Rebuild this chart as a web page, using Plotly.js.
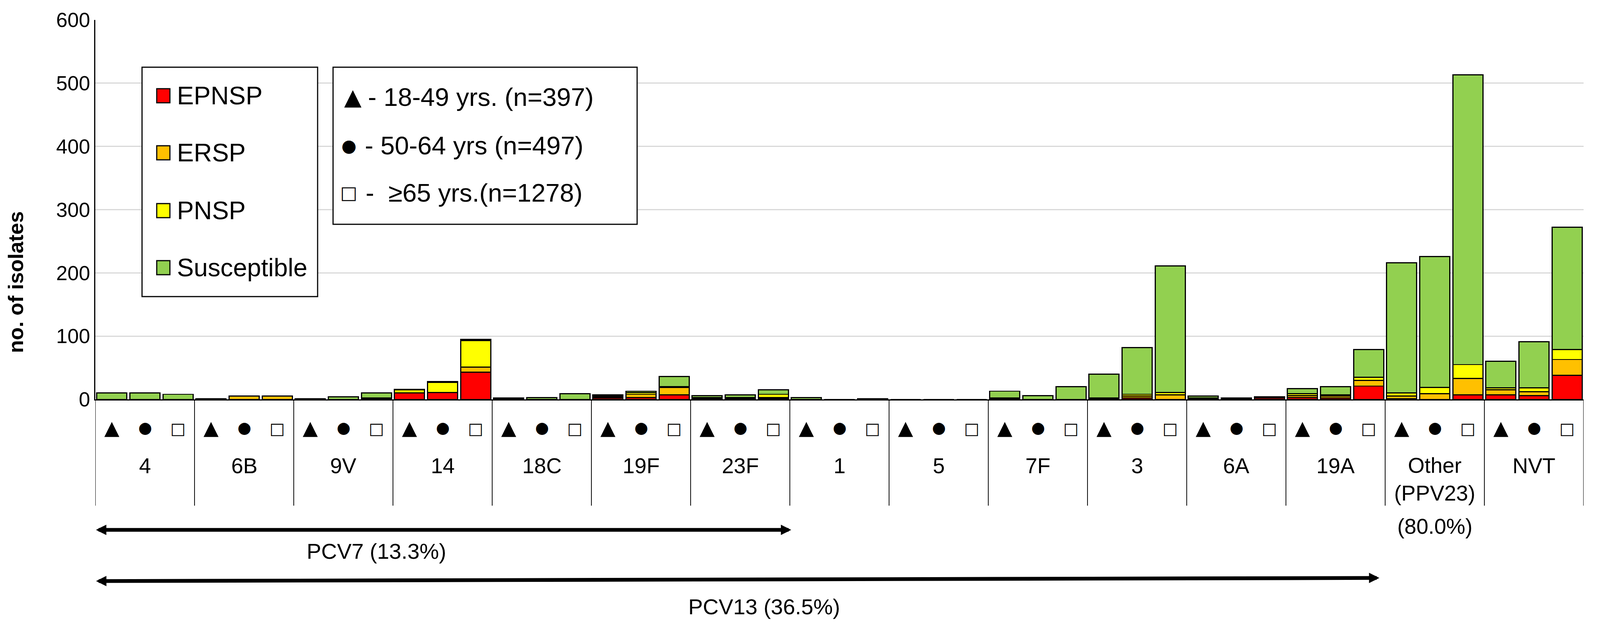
<!DOCTYPE html>
<html><head><meta charset="utf-8">
<script src="https://cdn.plot.ly/plotly-3.0.1.min.js"></script>
<style>html,body{margin:0;padding:0;background:#fff;overflow:hidden}</style>
</head><body><div id="chart"></div>
<script>
// ---------- data ----------
const serotypes = ['4','6B','9V','14','18C','19F','23F','1','5','7F','3','6A','19A','Other (PPV23)','NVT'];
const ageSymbols = ['\u25B2','\u25CF','\u25A1'];
const ageLegend = ['- 18-49 yrs. (n=397)', '- 50-64 yrs (n=497)', '-\u00A0\u00A0\u226565 yrs.(n=1278)'];
const seriesNames = ['EPNSP','ERSP','PNSP','Susceptible'];
const seriesColors = ['#FF0000','#FFC000','#FFFF00','#92D050'];
const yTicks = [0,100,200,300,400,500,600];
const yTitle = 'no. of isolates';
const pcv7Label = 'PCV7 (13.3%)';
const pcv13Label = 'PCV13 (36.5%)';
const otherShare = '(80.0%)';

// values: per serotype, three age groups (18-49, 50-64, >=65)
const epnsp = [0,0,0, 0,0,0, 0,0,0, 10,11,43, 0,0,0, 2,3,7, 0,0,1, 0,0,0, 0,0,0, 1,0,0, 1,2,0, 1,1,2, 3,2,21, 1,0,7, 7,6,38];
const ersp  = [0,0,0, 1,5,5, 0,0,1, 0,0,8, 1,0,0, 2,5,12, 1,1,2, 0,0,0, 0,0,0, 1,0,0, 1,3,7, 1,1,1, 3,3,9, 4,9,26, 8,6,25];
const pnsp  = [0,0,0, 0,0,0, 0,0,1, 5,16,42, 0,0,0, 1,3,1, 2,2,5, 0,0,0, 0,0,0, 0,0,0, 0,3,4, 0,0,1, 3,2,5, 5,10,22, 3,6,16];
const susceptible = [10,10,8, 0,0,0, 1,4,8, 1,1,2, 1,3,9, 2,2,16, 3,4,7, 3,0,1, 0,0,0, 11,6,20, 38,74,200, 3,0,0, 8,13,44, 206,207,458, 42,73,193];

// ---------- geometry (reference pixels, scaled to the window) ----------
const W0 = 4247, H0 = 1602;
const Sx = (window.innerWidth || W0) / W0, Sy = (window.innerHeight || H0) / H0;
const W = Math.floor(W0 * Sx), H = Math.floor(H0 * Sy);
const L = 253, R = 4203, T = 51, B = 1022;
const px = x => (x - L) / (R - L);
const py = y => (B - y) / (B - T);
const f = v => v * Sx;           // font sizes and line widths
const FONT = 'Liberation Sans, Arial, sans-serif';
const SYMFONT = 'DejaVu Sans, Liberation Sans, sans-serif';

const keys = [];
serotypes.forEach(s => ageSymbols.forEach(a => keys.push(s + ' ' + a)));

const seriesValues = [epnsp, ersp, pnsp, susceptible];
const traces = seriesNames.map((n, i) => ({
  type: 'bar', name: n, x: keys, y: seriesValues[i],
  marker: {color: seriesColors[i], line: {color: '#000', width: f(3)}},
  showlegend: false, hoverinfo: 'skip'
}));

const shapes = [];
const annotations = [];

// group separators below axis
for (let k = 0; k <= serotypes.length; k++) {
  shapes.push({type: 'line', xref: 'x', yref: 'paper', x0: 3 * k - 0.5, x1: 3 * k - 0.5,
    y0: 0, y1: py(1294), line: {color: '#000', width: f(2)}});
}

// age symbols row and serotype labels
const rowSize = [52, 42, 43];
const rowY = [1094, 1094, 1097];
serotypes.forEach((s, g) => {
  ageSymbols.forEach((a, j) => {
    annotations.push({xref: 'x', yref: 'paper', x: keys[3 * g + j], y: py(rowY[j]),
      text: a, showarrow: false, xanchor: 'center', yanchor: 'middle',
      font: {family: SYMFONT, size: f(rowSize[j]), color: '#000'}});
  });
  const multi = s.indexOf(' (') > 0;
  annotations.push({xref: 'x', yref: 'paper', x: keys[3 * g + 1], y: py(multi ? 1226 : 1192),
    text: s.replace(' (', '<br>('), showarrow: false, xanchor: 'center', yanchor: 'middle',
    font: {family: FONT, size: f(57), color: '#000'}});
});
annotations.push({xref: 'x', yref: 'paper', x: keys[3 * 13 + 1], y: py(1347), text: otherShare,
  showarrow: false, xanchor: 'center', yanchor: 'middle', font: {family: FONT, size: f(57), color: '#000'}});

// y axis title
annotations.push({xref: 'paper', yref: 'paper', x: px(42), y: py(722), text: '<b>' + yTitle + '</b>',
  textangle: -90, showarrow: false, xanchor: 'center', yanchor: 'middle',
  font: {family: FONT, size: f(56), color: '#000'}});

// legend 1 (resistance)
shapes.push({type: 'rect', xref: 'paper', yref: 'paper', x0: px(377), x1: px(843), y0: py(759), y1: py(172),
  line: {color: '#000', width: f(3)}, fillcolor: '#fff'});
const leg1Y = [245, 391, 539, 685];
seriesNames.forEach((n, i) => {
  shapes.push({type: 'rect', xref: 'paper', yref: 'paper', x0: px(416), x1: px(451),
    y0: py(leg1Y[i] + 18), y1: py(leg1Y[i] - 18), line: {color: '#000', width: f(3)}, fillcolor: seriesColors[i]});
  annotations.push({xref: 'paper', yref: 'paper', x: px(468), y: py(leg1Y[i]), text: n, showarrow: false,
    xanchor: 'left', yanchor: 'middle', font: {family: FONT, size: f(67), color: '#000'}});
});

// legend 2 (age groups)
shapes.push({type: 'rect', xref: 'paper', yref: 'paper', x0: px(884), x1: px(1691), y0: py(574), y1: py(172),
  line: {color: '#000', width: f(3)}, fillcolor: '#fff'});
const leg2Y = [248, 372, 493];
const leg2SymX = [937, 926, 926];
const leg2SymSize = [60, 46, 48];
const leg2TextX = [975, 966, 968];
ageSymbols.forEach((a, i) => {
  annotations.push({xref: 'paper', yref: 'paper', x: px(leg2SymX[i]), y: py(leg2Y[i]), text: a, showarrow: false,
    xanchor: 'center', yanchor: 'middle', font: {family: SYMFONT, size: f(leg2SymSize[i]), color: '#000'}});
  annotations.push({xref: 'paper', yref: 'paper', x: px(leg2TextX[i]), y: py(leg2Y[i]), text: ageLegend[i], showarrow: false,
    xanchor: 'left', yanchor: 'middle', font: {family: FONT, size: f(68), color: '#000'}});
});

// vaccine coverage arrows
function dblArrow(x0, y0, x1, y1) {
  annotations.push({xref: 'paper', yref: 'paper', x: px(x1), y: py(y1), ax: -(x1 - x0) * Sx, ay: (y0 - y1) * Sy,
    text: '', showarrow: true, arrowside: 'end+start', arrowhead: 2, startarrowhead: 2,
    arrowwidth: f(10), arrowsize: 0.55, startarrowsize: 0.55, arrowcolor: '#000', standoff: 0, startstandoff: 0});
}
dblArrow(253, 1356, 2100, 1356);
dblArrow(253, 1487, 3661, 1479);
annotations.push({xref: 'paper', yref: 'paper', x: px(999), y: py(1410), text: pcv7Label, showarrow: false,
  xanchor: 'center', yanchor: 'middle', font: {family: FONT, size: f(58), color: '#000'}});
annotations.push({xref: 'paper', yref: 'paper', x: px(2028), y: py(1552), text: pcv13Label, showarrow: false,
  xanchor: 'center', yanchor: 'middle', font: {family: FONT, size: f(58), color: '#000'}});

const layout = {
  width: W, height: H,
  margin: {l: L * Sx, r: W - R * Sx, t: T * Sy, b: H - B * Sy, pad: 0},
  paper_bgcolor: '#fff', plot_bgcolor: '#fff',
  barmode: 'stack', bargap: 0.09,
  font: {family: FONT, color: '#000'},
  showlegend: false,
  xaxis: {type: 'category', categoryorder: 'array', categoryarray: keys, range: [-0.5, keys.length - 0.5],
    showticklabels: false, ticks: '', showgrid: false, zeroline: false,
    showline: true, linecolor: '#000', linewidth: f(3), fixedrange: true},
  yaxis: {range: [0, 600], tickvals: yTicks, ticktext: yTicks.map(String),
    tickfont: {family: FONT, size: f(54), color: '#000'}, showgrid: true, gridcolor: '#D9D9D9', gridwidth: f(3),
    zeroline: false, showline: true, linecolor: '#000', linewidth: f(3), ticks: '', ticklabelstandoff: f(52), fixedrange: true},
  shapes: shapes,
  annotations: annotations
};

Plotly.newPlot('chart', traces, layout, {staticPlot: true, displayModeBar: false});
</script>
</body></html>
